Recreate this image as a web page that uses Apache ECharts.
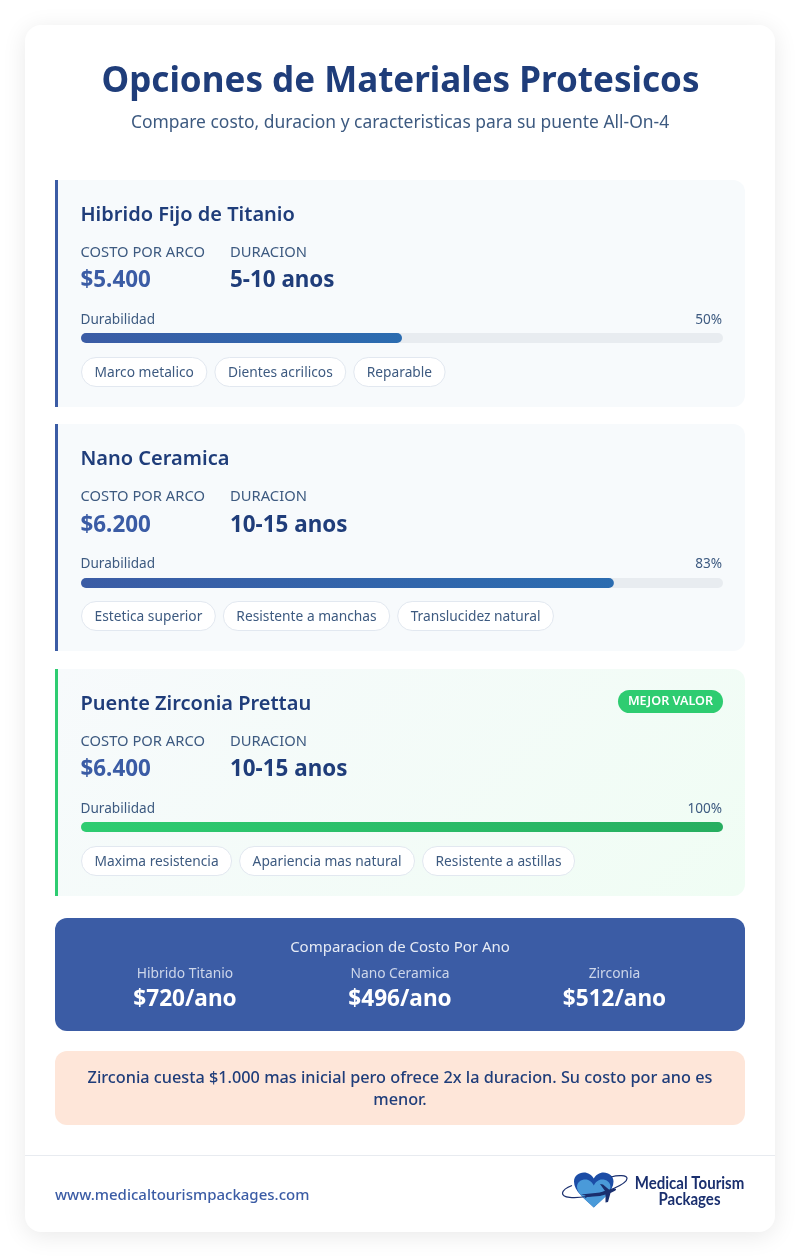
<!DOCTYPE html>
<html>
<head>
<meta charset="utf-8">
<title>Opciones de Materiales Protesicos</title>
<script src="https://cdn.jsdelivr.net/npm/echarts@6/dist/echarts.min.js"></script>
<style>
  html, body { margin: 0; padding: 0; background: #fff; }
  #chart { width: 802px; height: 1256px; }
</style>
</head>
<body>
<div id="chart"></div>
<script>
var materials = ['Hibrido Fijo de Titanio', 'Nano Ceramica', 'Puente Zirconia Prettau'];
var costs = ['$5.400', '$6.200', '$6.400'];
var durations = ['5-10 anos', '10-15 anos', '10-15 anos'];
var durability = [50, 83, 100];
var tags = [
  ['Marco metalico', 'Dientes acrilicos', 'Reparable'],
  ['Estetica superior', 'Resistente a manchas', 'Translucidez natural'],
  ['Maxima resistencia', 'Apariencia mas natural', 'Resistente a astillas']
];
var yearNames = ['Hibrido Titanio', 'Nano Ceramica', 'Zirconia'];
var yearCosts = [720, 496, 512];

var FONT = '"Noto Sans", sans-serif';
var NAVY = '#1f3d7a', BLUE = '#3b5ca5', MUTED = '#3d5a80', GREEN = '#2ecc71', LOGO = '#1a2f6e';
var cardTops = [180, 424.3, 669];

var measure = document.createElement('canvas').getContext('2d');
function textWidth(str, size, weight) {
  measure.font = (weight || 400) + ' ' + size + 'px "Noto Sans"';
  return measure.measureText(str).width;
}

var els = [];
function text(str, x, y, size, color, weight, align, extra) {
  var el = {
    type: 'text', x: x, y: y, z: 5,
    style: {
      text: str, fill: color, font: (weight || 400) + ' ' + size + 'px ' + FONT,
      textAlign: align || 'left', textVerticalAlign: 'middle'
    }
  };
  if (extra) Object.keys(extra).forEach(function (k) { el[k] = extra[k]; });
  els.push(el);
}
function rect(x, y, w, h, r, fill, stroke, z) {
  var el = {
    type: 'rect', z: z || 1,
    shape: { x: x, y: y, width: w, height: h, r: r },
    style: { fill: fill }
  };
  if (stroke) { el.style.stroke = stroke; el.style.lineWidth = 1; }
  els.push(el);
  return el;
}

// outer sheet
var sheet = rect(25, 25, 750, 1207, 16, '#fff');
sheet.style.shadowBlur = 24;
sheet.style.shadowOffsetY = 4;
sheet.style.shadowColor = 'rgba(0,0,0,0.09)';

text('Opciones de Materiales Protesicos', 400.5, 82, 35, NAVY, 700, 'center');
text('Compare costo, duracion y caracteristicas para su puente All-On-4', 400, 123, 17.45, MUTED, 400, 'center');

// material cards
materials.forEach(function (name, i) {
  var top = cardTops[i], best = i === 2, boxTop = Math.round(top);
  // same geometry as a css 135deg gradient over the card
  var bg = best
    ? new echarts.graphic.LinearGradient(171, 553.5, 629, 1011.5, [{ offset: 0, color: '#f7fafc' }, { offset: 1, color: '#f0fdf4' }], true)
    : '#f7fafc';
  rect(55, boxTop, 690, 227, [0, 12, 12, 0], bg);
  rect(55, boxTop, 3, 227, 0, best ? GREEN : BLUE, null, 2);

  text(name, 80.5, top + 35, 20, NAVY, 600);
  text('COSTO POR ARCO', 80.5, top + 73, 13.6, MUTED, 400, 'left', { scaleX: 1.085 });
  text('DURACION', 230, top + 73, 13.6, MUTED, 400, 'left', { scaleX: 1.085 });
  text(costs[i], 80.5, top + 101, 22.4, BLUE, 700);
  text(durations[i], 230, top + 101, 22.4, NAVY, 700);
  text('Durabilidad', 80.5, top + 140, 13.6, MUTED);
  text(durability[i] + '%', 722, top + 140, 13.6, MUTED, 400, 'right');

  var x = 81, tagTop = Math.round(top + 177) + 0.5;
  tags[i].forEach(function (t) {
    var w = textWidth(t, 13.75) + 26;
    rect(x + 0.5, tagTop, w, 29, 14.5, '#fff', '#e2e8f0', 2);
    text(t, x + w / 2 + 0.5, tagTop + 15.5, 13.75, MUTED, 400, 'center');
    x += w + 8;
  });
});

// best value badge
rect(618, 690, 105, 23, 11.5, GREEN, null, 2);
text('MEJOR VALOR', 670.5, 702, 12, '#fff', 600, 'center', { scaleX: 1.05 });

// cost per year panel
rect(55, 918, 690, 113, 12, BLUE);
text('Comparacion de Costo Por Ano', 400, 948, 15, '#e6ebf5', 400, 'center');
var yearX = [185, 400, 614.5];
yearNames.forEach(function (n, i) {
  text(n, yearX[i], 974, 13.8, '#cdd6ea', 400, 'center');
  text('$' + yearCosts[i] + '/ano', yearX[i], 1000, 22.6, '#fff', 700, 'center');
});

// note
rect(55, 1051, 690, 74, 12, '#fee6d9');
text('Zirconia cuesta $1.000 mas inicial pero ofrece 2x la duracion. Su costo por ano es', 400, 1078, 16.25, NAVY, 500, 'center');
text('menor.', 400, 1100, 16.25, NAVY, 500, 'center');

// footer
els.push({ type: 'line', z: 1, shape: { x1: 25, y1: 1155.5, x2: 775, y2: 1155.5 }, style: { stroke: '#e8ebf0', lineWidth: 1 } });
text('www.medicaltourismpackages.com', 55, 1196, 15, BLUE, 500);

// logo, path coords are relative to its 80x50 box
function logoPath(name, d, style, z) {
  echarts.graphic.registerShape(name, echarts.graphic.extendPath(d, {}));
  els.push({ type: name, x: 556, y: 1165, z: z, style: style });
}
logoPath('heartOuter', 'M37.8 42.5 C28 33 18 26 18 16.5 C18 11 22.5 7.5 28 7.5 C32 7.5 35.8 10 37.8 13.5 C39.8 10 43.5 7.5 47.5 7.5 C53 7.5 57.5 11 57.5 16.5 C57.5 26 47.5 33 37.8 42.5 Z', { fill: '#1c4da6' }, 3);
logoPath('heartInner', 'M37.8 42.5 C31 36 21 29 21 22 C21 17 25 14.5 29.5 14.5 C33 14.5 36 17 37.8 20.5 C39.6 17 42.5 14.5 46 14.5 C50.5 14.5 54.5 17 54.5 22 C54.5 29 44.5 36 37.8 42.5 Z', { fill: '#4a9ad9' }, 3);
logoPath('orbit', 'M55 12 C62 10 71 10 71 13.5 C71 19 50 28 31 31.5 C18 33.5 6 33 6.5 28 C7 25 12 22 16 20.5', { fill: 'none', stroke: LOGO, lineWidth: 1.2 }, 4);
logoPath('plane', 'M25 29.5 L44 27.5 L49 26 L44 19 L47 19.5 L53.5 25 L58 23.5 C60 23 61 24.5 59 25.7 L54.5 28 L52 37 L49.5 37.5 L49.5 29.5 L44 31 L31 32 L29 33.5 L29.5 30.5 Z', { fill: LOGO }, 4);
['Medical Tourism', 'Packages'].forEach(function (line, i) {
  els.push({
    type: 'text', x: 689.5, y: 1183.5 + i * 16, z: 5, scaleX: 0.91,
    style: { text: line, fill: LOGO, font: '700 16.5px Lato, sans-serif', textAlign: 'center', textVerticalAlign: 'middle' }
  });
});

// durability bars, one small grid per card
var grids = [], xAxes = [], yAxes = [], series = [];
durability.forEach(function (v, i) {
  var best = i === 2;
  grids.push({ left: 81, width: 642, top: Math.round(cardTops[i] + 153.4), height: 10 });
  xAxes.push({ type: 'value', gridIndex: i, min: 0, max: 100, show: false });
  yAxes.push({ type: 'category', gridIndex: i, data: [materials[i]], show: false });
  series.push({
    type: 'bar', xAxisIndex: i, yAxisIndex: i, barWidth: 10, z: 3, silent: true,
    showBackground: true,
    backgroundStyle: { color: '#e8ecf0', borderRadius: 5 },
    itemStyle: {
      borderRadius: 5,
      color: new echarts.graphic.LinearGradient(0, 0, 1, 0, best
        ? [{ offset: 0, color: GREEN }, { offset: 1, color: '#27ae60' }]
        : [{ offset: 0, color: BLUE }, { offset: 1, color: '#2b6cb0' }])
    },
    data: [v]
  });
});

var myChart = echarts.init(document.getElementById('chart'));
myChart.setOption({
  backgroundColor: '#fff',
  animation: false,
  grid: grids,
  xAxis: xAxes,
  yAxis: yAxes,
  series: series,
  graphic: { elements: els }
});
</script>
</body>
</html>
